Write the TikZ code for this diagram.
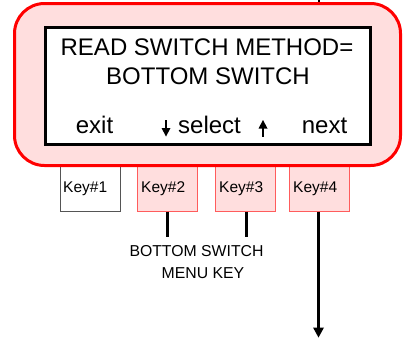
\documentclass[tikz,border=0pt]{standalone}
\usepackage{fontspec}
\setmainfont{Liberation Sans}
\usetikzlibrary{arrows.meta}
\definecolor{panelfill}{HTML}{FFDEDE}
\definecolor{panelred}{HTML}{FF0000}
\definecolor{keyred}{HTML}{FF5C5C}
\definecolor{keygray}{HTML}{555555}
\tikzset{
  keybox/.style={draw=keyred, fill=panelfill, line width=1pt},
  keyplain/.style={draw=keygray, fill=white, line width=1pt},
  keylabel/.style={anchor=west, inner sep=0pt, font=\fontsize{15.5}{18}\selectfont},
  lcdtext/.style={inner sep=0pt, font=\fontsize{24}{28}\selectfont},
  stub/.style={line width=3pt},
  shaft/.style={line width=2.6pt},
  head/.style={fill=black, draw=none},
}
\begin{document}
\begin{tikzpicture}[x=1pt,y=-1pt]
\useasboundingbox (0,0) rectangle (403,338);
% incoming line at top
\coordinate (topin) at (318.5,0);
\coordinate (topend) at (318.5,3);
\draw[line width=2pt] (topin) -- (topend);
% key boxes (behind panel)
\draw[keyplain] (60,150) rectangle (120,211.5);
\draw[keybox] (137.5,150) rectangle (197.5,211.5);
\draw[keybox] (215.5,150) rectangle (275.5,211.5);
\draw[keybox] (289.5,150) rectangle (349.5,211.5);
\node[keylabel] (k1) at (63,189) {Key\#1};
\node[keylabel] (k2) at (141,189) {Key\#2};
\node[keylabel] (k3) at (219,189) {Key\#3};
\node[keylabel] (k4) at (293,189) {Key\#4};
\coordinate (k2b) at (167,211.5);
\coordinate (k3b) at (246,211.5);
\coordinate (k4b) at (318.5,211.5);
% panel
\draw[draw=panelred, fill=panelfill, line width=3pt, rounded corners=30pt] (14.5,3.5) rectangle (400.5,165.5);
% lcd
\draw[line width=3pt, fill=white] (45.5,27.5) rectangle (370.5,144.5);
\node[lcdtext] (l1) at (207,47) {READ SWITCH METHOD=};
\node[lcdtext] (l2) at (208,76) {BOTTOM SWITCH};
\node[lcdtext, anchor=base] (ex) at (94.5,133.5) {exit};
\node[lcdtext, anchor=base] (sel) at (209.5,133.5) {select};
\node[lcdtext, anchor=base] (nx) at (324.5,133.5) {next};
% small arrows
\coordinate (da1) at (166,120);
\coordinate (da2) at (166,129);
\draw[shaft] (da1) -- (da2);
\fill[head] (161.5,128) -- (170.5,128) -- (166,136.5) -- cycle;
\coordinate (ua1) at (263,136.5);
\coordinate (ua2) at (263,127.5);
\draw[shaft] (ua1) -- (ua2);
\fill[head] (258.5,128.5) -- (267.5,128.5) -- (263,120) -- cycle;
% stubs
\coordinate (s2) at (167,237);
\coordinate (s3) at (246,237);
\draw[stub] (k2b) -- (s2);
\draw[stub] (k3b) -- (s3);
\node[inner sep=0pt, font=\fontsize{15.8}{18}\selectfont] (bs) at (196.5,251) {BOTTOM SWITCH};
\node[inner sep=0pt, font=\fontsize{15.8}{18}\selectfont] (mk) at (203,273.5) {MENU KEY};
% exit arrow
\coordinate (ex4) at (318.5,337.5);
\draw[line width=3pt, -{Triangle[length=10pt,width=11pt,line width=0pt]}] (k4b) -- (ex4);
\end{tikzpicture}
\end{document}
